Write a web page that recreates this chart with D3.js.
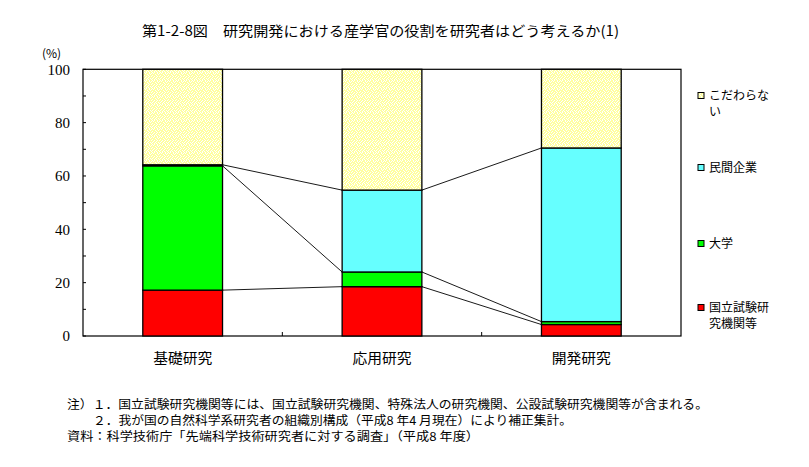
<!DOCTYPE html>
<html><head><meta charset="utf-8">
<script src="https://cdn.jsdelivr.net/npm/d3@7"></script>
<style>body{margin:0;background:#fff}svg{display:block}</style>
</head><body>
<svg id="c" width="809" height="467"></svg>
<script>
const categories = ["基礎研究", "応用研究", "開発研究"];
const seriesKeys = ["national", "university", "private", "noPref"];
const seriesLabels = [["国立試験研", "究機関等"], ["大学"], ["民間企業"], ["こだわらな", "い"]];
const national   = [17.2, 18.5, 4.3];
const university = [46.6, 5.5, 1.1];
const privateCo  = [0.4, 30.7, 65.1];
const noPref     = [35.8, 45.3, 29.5];
const yTicks = [0, 20, 40, 60, 80, 100];
const title = "第1-2-8図　研究開発における産学官の役割を研究者はどう考えるか(1)";
const notes = [
  "注）１．国立試験研究機関等には、国立試験研究機関、特殊法人の研究機関、公設試験研究機関等が含まれる。",
  "２．我が国の自然科学系研究者の組織別構成（平成8 年4 月現在）により補正集計。",
  "資料：科学技術庁「先端科学技術研究者に対する調査」（平成8 年度）"
];

const rows = categories.map((c, i) => ({cat: c, national: national[i], university: university[i], private: privateCo[i], noPref: noPref[i]}));
const stack = d3.stack().keys(seriesKeys)(rows);

const svg = d3.select("#c");
const jp = "'Noto Sans CJK JP', sans-serif";
const L = 83, R = 681, T = 69.3, B = 336;
const x = d3.scaleBand().domain(categories).range([L, R]).paddingInner(0.6).paddingOuter(0.3);
const y = d3.scaleLinear().domain([0, 100]).range([B, T]);
const colors = {national: "#ff0000", university: "#00ff00", private: "#66ffff", noPref: "url(#dots)"};

// stipple pattern
const defs = svg.append("defs");
const pat = defs.append("pattern").attr("id", "dots").attr("patternUnits", "userSpaceOnUse").attr("width", 8).attr("height", 8);
pat.append("rect").attr("width", 8).attr("height", 8).attr("fill", "#ffffa0");
[[0,0],[2,0],[5,0],[7,1],[1,1],[3,2],[6,2],[0,3],[4,3],[2,4],[5,4],[7,4],[1,5],[3,6],[6,6],[0,6],[4,7],[2,7],[7,7],[5,1],[4,5]].forEach(([a,b]) =>
  pat.append("rect").attr("x", a).attr("y", b).attr("width", 1).attr("height", 1).attr("fill", "#fff"));

// title
svg.append("text").attr("x", 142).attr("y", 36).attr("font-family", jp).attr("font-size", 14)
  .attr("textLength", 477).attr("lengthAdjust", "spacingAndGlyphs").text(title);

// frame
svg.append("rect").attr("x", L).attr("y", T).attr("width", R - L).attr("height", B - T)
  .attr("fill", "none").attr("stroke", "#000").attr("stroke-width", 1.2);

// y ticks (every 10, inside)
d3.range(0, 101, 10).forEach(v => {
  svg.append("line").attr("x1", L).attr("x2", L + 3).attr("y1", y(v)).attr("y2", y(v)).attr("stroke", "#000");
});
svg.selectAll("text.yt").data(yTicks).join("text").attr("class", "yt")
  .attr("x", 70).attr("y", d => y(d)).attr("dy", "0.35em").attr("text-anchor", "end")
  .attr("font-family", "'Liberation Serif', serif").attr("font-size", 15).text(d => d);
svg.append("text").attr("x", 42).attr("y", 58).attr("font-family", jp).attr("font-size", 12).text("(%)");

// x ticks at category boundaries
for (let i = 1; i < categories.length; i++) {
  const xb = L + x.step() * i;
  svg.append("line").attr("x1", xb).attr("x2", xb).attr("y1", B).attr("y2", B - 4).attr("stroke", "#000");
}

// connector lines
const bw = x.bandwidth();
stack.slice(0, 3).forEach(s => {
  for (let i = 0; i < categories.length - 1; i++) {
    svg.append("line")
      .attr("x1", x(categories[i]) + bw).attr("y1", y(s[i][1]))
      .attr("x2", x(categories[i + 1])).attr("y2", y(s[i + 1][1]))
      .attr("stroke", "#000").attr("stroke-width", 0.9);
  }
});

// bars
stack.forEach(s => {
  svg.append("g").selectAll("rect").data(s).join("rect")
    .attr("x", d => x(d.data.cat)).attr("width", bw)
    .attr("y", d => y(d[1])).attr("height", d => y(d[0]) - y(d[1]))
    .attr("fill", colors[s.key]).attr("stroke", "#000").attr("stroke-width", 1.3);
});

// category labels
svg.selectAll("text.xc").data(categories).join("text").attr("class", "xc")
  .attr("x", d => x(d) + bw / 2).attr("y", 358).attr("dy", "0.35em").attr("text-anchor", "middle")
  .attr("font-family", jp).attr("font-size", 14).attr("textLength", 59).attr("lengthAdjust", "spacingAndGlyphs").text(d => d);

// legend
const legY = {noPref: 96, private: 168, university: 244, national: 308};
seriesKeys.forEach((k, i) => {
  const yy = legY[k];
  svg.append("rect").attr("x", 698).attr("y", yy - 3.5).attr("width", 6).attr("height", 6)
    .attr("fill", colors[k]).attr("stroke", "#000").attr("stroke-width", 1);
  seriesLabels[i].forEach((t, j) => {
    svg.append("text").attr("x", 709).attr("y", yy + j * 16).attr("dy", "0.35em")
      .attr("font-family", jp).attr("font-size", 12).text(t);
  });
});

// notes
const noteX = [67, 93, 67], noteY = [405, 421, 437], noteW = [641, 479, 412];
notes.forEach((t, i) => {
  svg.append("text").attr("x", noteX[i]).attr("y", noteY[i]).attr("dy", "0.35em")
    .attr("font-family", jp).attr("font-size", 12)
    .attr("textLength", noteW[i]).attr("lengthAdjust", "spacingAndGlyphs").text(t);
});
</script>
</body></html>
